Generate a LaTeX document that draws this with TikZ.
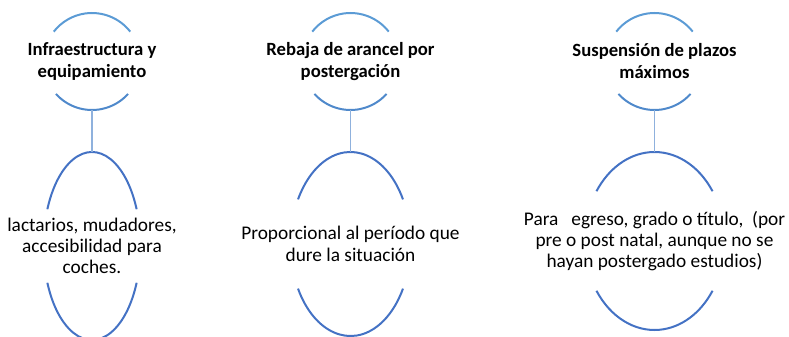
\documentclass[tikz,border=0pt]{standalone}
\usepackage{fontspec}
\setmainfont{Carlito}
\usetikzlibrary{shapes.geometric}
\definecolor{captop}{HTML}{5B9BD5}
\definecolor{capbot}{HTML}{4F89CB}
\definecolor{bigarc}{HTML}{4472C4}
\definecolor{linkc}{HTML}{8FB1DD}

\begin{document}
\begin{tikzpicture}[x=0.75pt, y=0.75pt, font=\fontsize{14.5}{16}\selectfont,
    ring/.style={circle, minimum size=72.75pt, inner sep=0pt, outer sep=0pt},
    oval/.style={ellipse, inner sep=0pt, outer sep=0pt},
    title/.style={font=\fontsize{14}{16.5}\selectfont\bfseries, align=center, inner sep=0pt},
    body/.style={align=center, inner sep=0pt},
    upper/.style={captop, line width=1.5pt},
    lower/.style={capbot, line width=1.5pt},
    big/.style={bigarc, line width=1.5pt},
    link/.style={linkc, line width=0.8pt}]

    \useasboundingbox (0,0) rectangle (789,336);

    % small rings with the titles
    \node[ring] (t1) at (92,274.5) {};
    \node[ring] (t2) at (350.5,274.5) {};
    \node[ring] (t3) at (654.5,274.5) {};
    \node[title] (h1) at (t1) {Infraestructura y\\equipamiento};
    \node[title] (h2) at (t2) {Rebaja de arancel por\\postergación};
    \node[title] (h3) at (t3) {Suspensión de plazos\\máximos};

    % large ovals with the texts
    \node[oval, minimum width=72.75pt, minimum height=141pt] (b1) at (92,90) {};
    \node[oval, minimum width=90pt, minimum height=138pt] (b2) at (350.5,92) {};
    \node[oval, minimum width=105pt, minimum height=133.5pt] (b3) at (654.5,95) {};
    \node[body] (x1) at (b1) {lactarios, mudadores,\\accesibilidad para\\coches.};
    \node[body] (x2) at (b2) {Proporcional al período que\\dure la situación};
    \node[body] (x3) at (b3) {Para\ \ \ egreso, grado o título,\ \ (por\\pre o post natal, aunque no se\\hayan postergado estudios)};

    \draw[upper] (t1.center) ++(38:48.5) arc[start angle=38, end angle=142, radius=48.5];
    \draw[lower] (t1.center) ++(222:48.5) arc[start angle=222, end angle=318, radius=48.5];
    \draw[upper] (t2.center) ++(38:48.5) arc[start angle=38, end angle=142, radius=48.5];
    \draw[lower] (t2.center) ++(222:48.5) arc[start angle=222, end angle=318, radius=48.5];
    \draw[upper] (t3.center) ++(38:48.5) arc[start angle=38, end angle=142, radius=48.5];
    \draw[lower] (t3.center) ++(222:48.5) arc[start angle=222, end angle=318, radius=48.5];

    \draw[big] (b1.center) ++({48.5*cos(23)},{94*sin(23)}) arc[start angle=23, end angle=157, x radius=48.5, y radius=94];
    \draw[big] (b1.center) ++({48.5*cos(203)},{94*sin(203)}) arc[start angle=203, end angle=337, x radius=48.5, y radius=94];
    \draw[big] (b2.center) ++({60*cos(29)},{92*sin(29)}) arc[start angle=29, end angle=151, x radius=60, y radius=92];
    \draw[big] (b2.center) ++({60*cos(209)},{92*sin(209)}) arc[start angle=209, end angle=331, x radius=60, y radius=92];
    \draw[big] (b3.center) ++({70*cos(34)},{89*sin(34)}) arc[start angle=34, end angle=146, x radius=70, y radius=89];
    \draw[big] (b3.center) ++({70*cos(214)},{89*sin(214)}) arc[start angle=214, end angle=326, x radius=70, y radius=89];

    \path[link]
        (t1.south) edge (b1.north)
        (t2.south) edge (b2.north)
        (t3.south) edge (b3.north)
        ;
\end{tikzpicture}
\end{document}
